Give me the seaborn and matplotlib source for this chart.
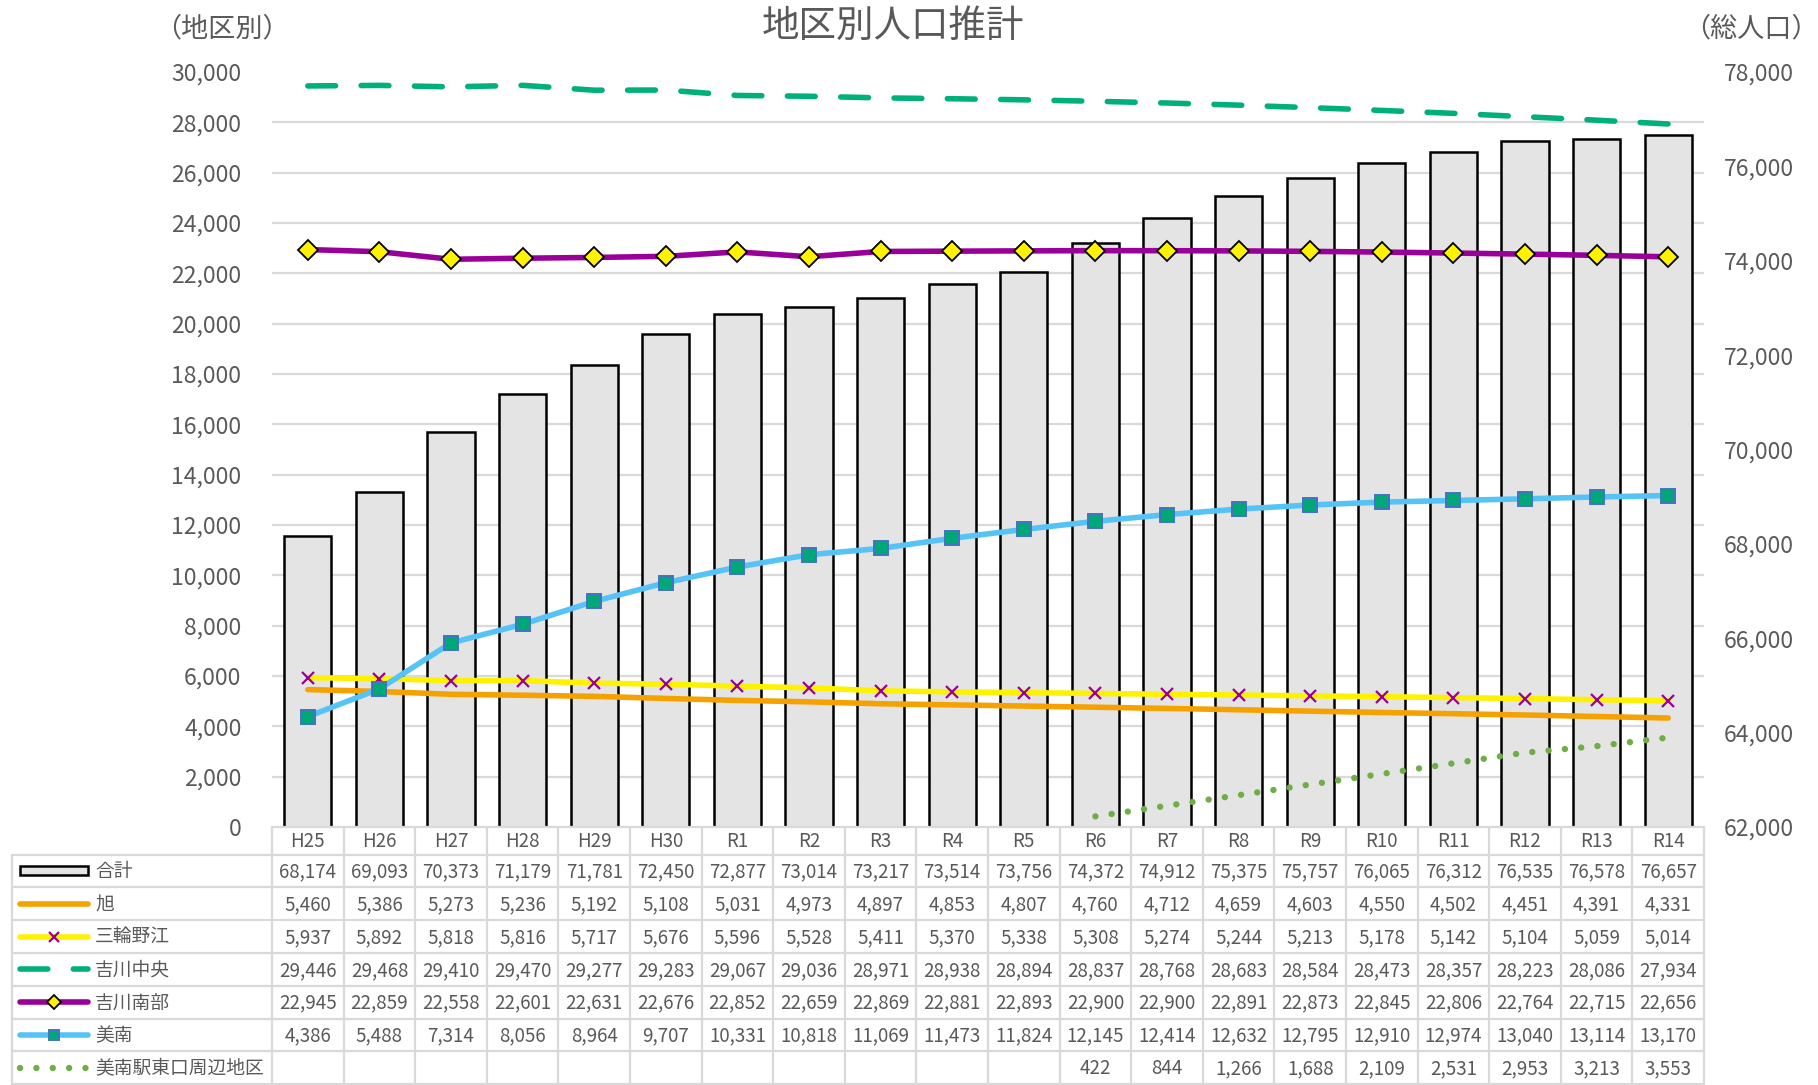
import numpy as np
import pandas as pd
import matplotlib
matplotlib.use("Agg")
import matplotlib.pyplot as plt
from matplotlib.lines import Line2D
from matplotlib.patches import Rectangle
import seaborn as sns

# ---------------- data ----------------
categories = ["H25", "H26", "H27", "H28", "H29", "H30", "R1", "R2", "R3", "R4",
              "R5", "R6", "R7", "R8", "R9", "R10", "R11", "R12", "R13", "R14"]
total = [68174, 69093, 70373, 71179, 71781, 72450, 72877, 73014, 73217, 73514,
         73756, 74372, 74912, 75375, 75757, 76065, 76312, 76535, 76578, 76657]
asahi = [5460, 5386, 5273, 5236, 5192, 5108, 5031, 4973, 4897, 4853,
         4807, 4760, 4712, 4659, 4603, 4550, 4502, 4451, 4391, 4331]
miwanoe = [5937, 5892, 5818, 5816, 5717, 5676, 5596, 5528, 5411, 5370,
           5338, 5308, 5274, 5244, 5213, 5178, 5142, 5104, 5059, 5014]
yoshikawa_chuo = [29446, 29468, 29410, 29470, 29277, 29283, 29067, 29036, 28971, 28938,
                  28894, 28837, 28768, 28683, 28584, 28473, 28357, 28223, 28086, 27934]
yoshikawa_nanbu = [22945, 22859, 22558, 22601, 22631, 22676, 22852, 22659, 22869, 22881,
                   22893, 22900, 22900, 22891, 22873, 22845, 22806, 22764, 22715, 22656]
minami = [4386, 5488, 7314, 8056, 8964, 9707, 10331, 10818, 11069, 11473,
          11824, 12145, 12414, 12632, 12795, 12910, 12974, 13040, 13114, 13170]
higashiguchi = [np.nan] * 11 + [422, 844, 1266, 1688, 2109, 2531, 2953, 3213, 3553]

row_names = ["合計", "旭", "三輪野江", "吉川中央", "吉川南部", "美南", "美南駅東口周辺地区"]
left_ticks = list(range(0, 30001, 2000))
right_ticks = list(range(62000, 78001, 2000))

# ---------------- style ----------------
sns.set_theme(style="white")
plt.rcParams["font.family"] = ["Noto Sans CJK JP", "DejaVu Sans"]
TXT = "#595959"
GRID = "#D9D9D9"

W, H = 1818, 1085
fig = plt.figure(figsize=(W / 100, H / 100), dpi=100)

def fx(px):
    return px / W

def fy(py):
    return 1 - py / H

PL, PR, PT, PB = 272, 1704, 72, 827
ax_bar = fig.add_axes([fx(PL), fy(PB), fx(PR - PL), (PB - PT) / H])

# bars (total population, right axis)
sns.barplot(x=categories, y=total, order=categories, ax=ax_bar, color="#E4E4E4",
            saturation=1, edgecolor="black", linewidth=1.8, width=0.66, zorder=2)
ax_line = ax_bar.twinx()

ax_bar.set_ylim(right_ticks[0], right_ticks[-1])
ax_bar.yaxis.tick_right()
ax_bar.yaxis.set_label_position("right")
ax_bar.set_yticks(right_ticks)
ax_bar.set_yticklabels([f"{v:,}" for v in right_ticks], color=TXT, fontsize=16.5)
# gridlines follow the left (district) axis: 15 equal steps of the range
ax_bar.set_yticks(np.linspace(right_ticks[0], right_ticks[-1], len(left_ticks)), minor=True)
ax_bar.grid(False)
ax_bar.grid(True, which="minor", axis="y", color=GRID, linewidth=1.6)
ax_bar.set_axisbelow(True)
ax_bar.tick_params(axis="y", which="both", length=0, pad=14, left=False, labelleft=False,
                   right=False, labelright=True)
ax_bar.set_xlabel("")
ax_bar.set_ylabel("")
for s in ax_bar.spines.values():
    s.set_visible(False)

# lines (district, left axis)
series = [
    (asahi, dict(color="#F5A200", linewidth=4.0, marker="", solid_capstyle="round")),
    (miwanoe, dict(color="#FFF200", linewidth=4.0, marker="x", markersize=9,
                   markeredgecolor="#990099", markerfacecolor="#990099",
                   markeredgewidth=1.6)),
    (yoshikawa_chuo, dict(color="#00B07A", linewidth=4.0, marker="",
                          linestyle=(0, (5.0, 4.6)), dash_capstyle="round")),
    (yoshikawa_nanbu, dict(color="#990099", linewidth=4.0, marker="D", markersize=10,
                           markerfacecolor="#FFF200", markeredgecolor="black",
                           markeredgewidth=1.3)),
    (minami, dict(color="#55C3F5", linewidth=4.0, marker="s", markersize=10.5,
                  markerfacecolor="#00A878", markeredgecolor="#4472C4",
                  markeredgewidth=1.4)),
    (higashiguchi, dict(color="#70AD47", linewidth=4.6, marker="",
                        linestyle=(0, (0.01, 2.55)), dash_capstyle="round")),
]
line_styles = []
for vals, st in series:
    n_before = len(ax_line.lines)
    sns.pointplot(x=categories, y=vals, order=categories, ax=ax_line,
                  color=st["color"], errorbar=None, markers="o", linestyles="-")
    ln = ax_line.lines[n_before]
    ln.set(**st)
    for extra in ax_line.lines[n_before + 1:]:
        extra.remove()
    ln.set_zorder(3)
    line_styles.append(st)

ax_line.set_ylim(left_ticks[0], left_ticks[-1])
ax_line.yaxis.tick_left()
ax_line.yaxis.set_label_position("left")
ax_line.set_yticks(left_ticks)
ax_line.set_yticklabels([f"{v:,}" for v in left_ticks], color=TXT, fontsize=16.5)
ax_line.tick_params(axis="y", length=0, pad=22, left=False, labelleft=True,
                    right=False, labelright=False)
ax_line.grid(False)
ax_line.set_xlim(-0.5, len(categories) - 0.5)
ax_bar.set_xlim(-0.5, len(categories) - 0.5)
ax_line.set_xticks([])
ax_bar.set_xticks([])
ax_line.set_xlabel("")
ax_line.set_ylabel("")
for s in ax_line.spines.values():
    s.set_visible(False)

# titles
fig.text(fx(893), fy(26), "地区別人口推計", ha="center", va="center",
         fontsize=27, color=TXT)
fig.text(fx(222), fy(29), "（地区別）", ha="center", va="center", fontsize=19.5, color=TXT)
fig.text(fx(1751), fy(29), "（総人口）", ha="center", va="center", fontsize=19.5, color=TXT)

# ---------------- data table ----------------
n = len(categories)
cw = (PR - PL) / n
TL = 12
head_top, head_h, row_h = PB, 27.5, 32.8
rows_top = head_top + head_h
n_rows = len(row_names)
bottom = rows_top + n_rows * row_h

def hline(x0, x1, y):
    fig.add_artist(Line2D([fx(x0), fx(x1)], [fy(y), fy(y)], color=GRID, lw=1.6,
                          transform=fig.transFigure))

def vline(x, y0, y1):
    fig.add_artist(Line2D([fx(x), fx(x)], [fy(y0), fy(y1)], color=GRID, lw=1.6,
                          transform=fig.transFigure))

hline(PL, PR, head_top)
for r in range(n_rows + 1):
    hline(TL, PR, rows_top + r * row_h)
vline(TL, rows_top, bottom)
for i in range(n + 1):
    vline(PL + i * cw, head_top, bottom)

for i, c in enumerate(categories):
    fig.text(fx(PL + (i + 0.5) * cw), fy(head_top + head_h / 2 + 1), c,
             ha="center", va="center", fontsize=13.5, color=TXT)

table_values = [total, asahi, miwanoe, yoshikawa_chuo, yoshikawa_nanbu, minami, higashiguchi]
for r, vals in enumerate(table_values):
    yc = rows_top + (r + 0.5) * row_h
    for i, v in enumerate(vals):
        if v is None or (isinstance(v, float) and np.isnan(v)):
            continue
        fig.text(fx(PL + (i + 0.5) * cw), fy(yc + 1), f"{int(v):,}",
                 ha="center", va="center", fontsize=13.5, color=TXT)
    fig.text(fx(95), fy(yc + 1), row_names[r], ha="left", va="center",
             fontsize=13.5, color=TXT)

# legend keys
k0, k1 = 20, 88
yk = rows_top + 0.5 * row_h
fig.add_artist(Rectangle((fx(k0), fy(yk + 4.5)), fx(k1 - k0), 9 / H,
                         facecolor="#E4E4E4", edgecolor="black", lw=1.8,
                         transform=fig.transFigure))
for r, st in enumerate(line_styles, start=1):
    yk = rows_top + (r + 0.5) * row_h
    kw = {k: v for k, v in st.items() if k not in ("marker",)}
    ln = Line2D([fx(k0), fx(k1)], [fy(yk), fy(yk)], transform=fig.transFigure,
                marker="", **kw)
    fig.add_artist(ln)
    if st.get("marker"):
        mk_kw = {k: v for k, v in st.items()
                 if k not in ("linestyle", "linewidth", "solid_capstyle",
                              "dash_capstyle", "color")}
        mk_kw["markersize"] = st["markersize"] * 0.75
        mk = Line2D([fx((k0 + k1) / 2)], [fy(yk)], transform=fig.transFigure,
                    linestyle="", **mk_kw)
        fig.add_artist(mk)

fig.savefig("out.png", dpi=100)
